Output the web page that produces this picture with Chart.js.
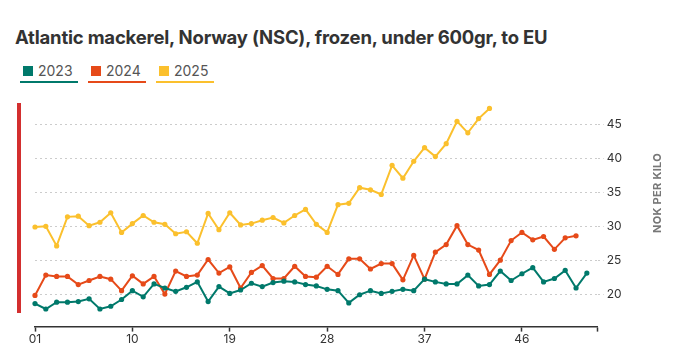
<!DOCTYPE html>
<html>
<head>
<meta charset="utf-8">
<script src="https://cdn.jsdelivr.net/npm/chart.js@4"></script>
<style>
    body { margin: 0; width: 678px; height: 353px; background: #fff; position: relative; overflow: hidden; font-family: Inter, sans-serif; }
    #title { position: absolute; left: 15px; top: 26px; font-size: 18.5px; font-weight: 700; color: #333; letter-spacing: -0.2px; white-space: nowrap; }
    #legend { position: absolute; left: 20px; top: 62px; display: flex; }
    .item { width: 58px; margin-right: 10px; border-bottom: 2px solid; padding: 0 0 2px 3px; box-sizing: border-box; display: flex; align-items: center; font-size: 14px; color: #555; }
    .sw { width: 10px; height: 10px; margin-right: 5px; }
    #bar { position: absolute; left: 17px; top: 103px; width: 4px; height: 210px; background: #d32f2f; }
    #ylab { position: absolute; left: 657px; top: 193px; transform: translate(-50%, -50%) rotate(-90deg); font-size: 11px; font-weight: 700; color: #777; white-space: nowrap; letter-spacing: 0.3px; }
    #wrap { position: absolute; left: 0; top: 0; width: 678px; height: 353px; }
</style>
</head>
<body>
<div id="title">Atlantic mackerel, Norway (NSC), frozen, under 600gr, to EU</div>
<div id="legend"></div>
<div id="bar"></div>
<div id="wrap"><canvas id="myChart"></canvas></div>
<div id="ylab">NOK PER KILO</div>
<script>
const weeks = Array.from({length: 53}, (_, i) => i + 1);
const years = ["2023", "2024", "2025"];
const colors = ["#00796b", "#e64a19", "#fbc02d"];

const data2023 = [18.6, 17.8, 18.8, 18.8, 18.9, 19.3, 17.8, 18.2, 19.2, 20.5, 19.6, 21.5, 20.9, 20.4, 21.0, 21.8, 18.9, 21.1,
    20.1, 20.6, 21.6, 21.1, 21.7, 21.9, 21.8, 21.4, 21.2, 20.7, 20.5, 18.7, 19.9, 20.5, 20.1, 20.4, 20.7, 20.5,
    22.2, 21.8, 21.5, 21.5, 22.8, 21.2, 21.4, 23.4, 22.0, 23.0, 23.9, 21.8, 22.3, 23.5, 20.9, 23.1];
const data2024 = [19.8, 22.8, 22.6, 22.6, 21.4, 22.0, 22.6, 22.2, 20.5, 22.7, 21.5, 22.6, 20.0, 23.4, 22.6, 22.8, 25.1, 23.1,
    24.0, 20.9, 23.2, 24.2, 22.3, 22.3, 24.1, 22.6, 22.5, 24.1, 22.9, 25.2, 25.2, 23.7, 24.5, 24.5, 22.1, 25.7,
    22.2, 26.2, 27.3, 30.1, 27.3, 26.5, 22.9, 25.0, 27.9, 29.1, 28.0, 28.5, 26.6, 28.3, 28.6];
const data2025 = [29.9, 30.0, 27.1, 31.4, 31.5, 30.1, 30.6, 32.0, 29.1, 30.4, 31.6, 30.6, 30.3, 28.9, 29.2, 27.5, 31.9, 29.5,
    32.0, 30.2, 30.4, 30.9, 31.3, 30.5, 31.6, 32.5, 30.3, 29.1, 33.2, 33.4, 35.7, 35.4, 34.7, 39.0, 37.1, 39.6,
    41.6, 40.3, 42.2, 45.5, 43.8, 45.9, 47.4];
const yTicks = [20, 25, 30, 35, 40, 45];

const legend = document.getElementById('legend');
years.forEach((y, i) => {
    legend.innerHTML += '<div class="item" style="border-color:' + colors[i] + '"><span class="sw" style="background:' + colors[i] + '"></span>' + y + '</div>';
});

const ds = [data2023, data2024, data2025].map((d, i) => ({
    label: years[i],
    data: d,
    borderColor: colors[i],
    backgroundColor: colors[i],
    borderWidth: 2,
    pointRadius: 2.6,
    pointBorderWidth: 0,
    tension: 0,
}));

const ctx = document.getElementById('myChart').getContext('2d');
const myChart = new Chart(ctx, {
    type: 'line',
    data: { labels: weeks, datasets: ds },
    options: {
        responsive: true,
        maintainAspectRatio: false,
        animation: false,
        layout: { padding: { left: 35, right: 53, top: 103, bottom: 5 } },
        plugins: { legend: { display: false }, tooltip: { enabled: false } },
        scales: {
            x: {
                offset: false,
                border: { color: '#333', width: 1.5 },
                grid: {
                    drawOnChartArea: false,
                    tickLength: 5,
                    tickWidth: 1.5,
                    tickColor: function(c) {
                        return (c.index % 9 === 0 || c.index === 52) ? '#333' : 'rgba(0,0,0,0)';
                    }
                },
                ticks: {
                    autoSkip: false,
                    maxRotation: 0,
                    padding: 1,
                    color: '#333',
                    font: { family: 'Inter', size: 12 },
                    callback: function(value, index) {
                        return index % 9 === 0 ? String(weeks[index]).padStart(2, '0') : '';
                    }
                }
            },
            y: {
                position: 'right',
                min: 15.2,
                max: 48.2,
                afterBuildTicks: function(axis) {
                    axis.ticks = yTicks.map(v => ({ value: v }));
                },
                border: { display: false, dash: [2, 3] },
                grid: { color: '#ccc', tickLength: 6, tickBorderDash: [2, 3], tickColor: '#ccc' },
                ticks: { padding: 3, color: '#333', font: { family: 'Inter', size: 12 } }
            }
        }
    }
});
</script>
</body>
</html>
